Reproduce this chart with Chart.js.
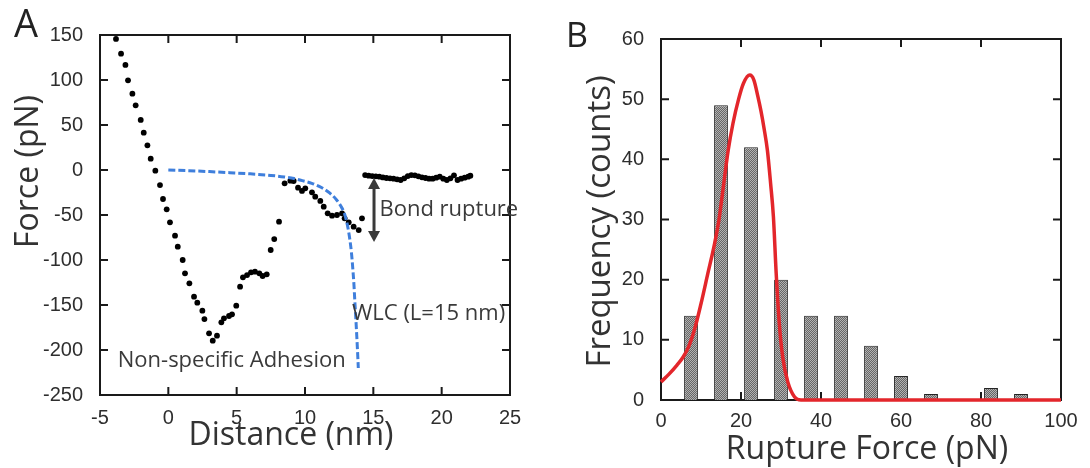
<!DOCTYPE html>
<html>
<head>
<meta charset="utf-8">
<script src="https://cdn.jsdelivr.net/npm/chart.js@4.4.1/dist/chart.umd.min.js"></script>
<style>
  html, body { margin: 0; padding: 0; background: #fff; }
  body { width: 1090px; height: 468px; position: relative; overflow: hidden; }
  .panel { position: absolute; top: 0; width: 545px; height: 468px; }
  #panelA { left: 0; }
  #panelB { left: 545px; }
</style>
</head>
<body>
<div class="panel" id="panelA"><canvas id="chartA"></canvas></div>
<div class="panel" id="panelB"><canvas id="chartB"></canvas></div>
<script>
// Panel A - force vs distance trace
const distanceNm = [
  -3.83, -3.46, -3.14, -2.95, -2.63, -2.39, -2.02, -1.80, -1.53, -1.29, -0.95, -0.61, -0.39, -0.12,
  0.12, 0.49, 0.69, 1.05, 1.22, 1.54, 1.88, 2.12, 2.49, 2.64, 2.98, 3.25, 3.56, 3.88, 4.07, 4.44,
  4.66, 4.97, 5.25, 5.46, 5.76, 6.05, 6.34, 6.66, 6.90, 7.20, 7.49, 7.75, 8.10,
  8.51, 8.93, 9.17, 9.49, 9.78, 10.02, 10.51, 10.75, 11.12, 11.37, 11.66, 11.98, 12.34, 12.71,
  12.90, 13.20, 13.56, 13.93, 14.17,
  14.40, 14.66, 14.92, 15.18, 15.44, 15.70, 15.96, 16.22, 16.48, 16.74, 17.00, 17.26, 17.52,
  17.78, 18.04, 18.30, 18.56, 18.82, 19.08, 19.34, 19.60, 19.86, 20.12, 20.38, 20.64, 20.90,
  21.16, 21.42, 21.68, 21.94, 22.10
];
const forcePn = [
  145.6, 129.2, 116.7, 99.6, 84.8, 71.9, 55.6, 41.5, 27.4, 12.6, -0.7, -16.7, -32.2, -43.7,
  -58.1, -73.0, -85.2, -100.0, -114.8, -125.9, -140.8, -147.4, -156.3, -165.6, -181.5, -189.6, -184.1, -169.3, -164.8, -162.2,
  -160.4, -150.7, -129.6, -119.3, -116.7, -113.7, -113.0, -114.8, -117.8, -115.9, -88.9, -76.7, -57.4,
  -14.8, -11.9, -12.2, -19.6, -23.3, -20.4, -24.8, -29.6, -34.4, -40.7, -48.1, -50.7, -50.0, -48.1,
  -53.7, -58.1, -63.0, -66.7, -53.7,
  -5.6, -6.3, -6.7, -7.0, -7.4, -8.2, -8.9, -9.3, -9.6, -10.4, -11.1, -9.3, -6.7,
  -5.6, -5.9, -7.0, -8.1, -8.9, -9.6, -9.6, -8.5, -7.4, -9.6, -11.1, -9.3, -5.9,
  -11.1, -9.6, -8.5, -7.4, -6.3
];
const wlcDistance = [0, 1.5, 3, 4.5, 6, 7.5, 8.5, 9.2, 9.8, 10.5, 11.2, 11.8, 12.3, 12.6, 12.9,
  13.1, 13.25, 13.4, 13.5, 13.58, 13.65, 13.72, 13.79, 13.85, 13.9];
const wlcForce = [0, -0.8, -1.8, -3, -4.3, -6, -7.8, -9.5, -11.8, -14.8, -19.5, -25.5, -33, -39.5, -49,
  -61, -74, -92, -110, -127, -147, -165, -185, -203, -220];
const ticksDistance = [-5, 0, 5, 10, 15, 20, 25];
const ticksForce = [-250, -200, -150, -100, -50, 0, 50, 100, 150];

// Panel B - rupture force histogram
const binCenters = [7.5, 15, 22.5, 30, 37.5, 45, 52.5, 60, 67.5, 82.5, 90];
const binCounts = [14, 49, 42, 20, 14, 14, 9, 4, 1, 2, 1];
const fitForce = [0, 2, 4, 5.5, 7, 8.5, 10, 11.7, 13.4, 14.5, 15.5, 16.8, 18, 19.4, 20.6, 22.2, 23.2,
  24.2, 25, 25.8, 26.6, 27.4, 28.1, 28.8, 29.6, 30.5, 31.7, 33.4, 35, 100];
const fitFreq = [3, 4.3, 5.8, 7.1, 9, 12, 16, 21, 26, 30, 35, 41.5, 46, 50, 52.6, 54, 53.2,
  50.5, 48, 45, 41.5, 36, 30.5, 21, 12.5, 6.8, 3, 0.5, 0, 0];
const ticksRupture = [0, 20, 40, 60, 80, 100];
const ticksFreq = [0, 10, 20, 30, 40, 50, 60];

const TITLE_FONT = '"Open Sans", "Noto Sans", sans-serif';
const NUM_FONT = '"Liberation Sans", Arial, sans-serif';

// box around the plot with inward tick marks
const frame = {
  id: 'frame',
  beforeDatasetsDraw(chart) {
    const { ctx, chartArea: a, scales: { x, y } } = chart;
    const len = 8;
    ctx.save();
    ctx.strokeStyle = '#1a1a1a';
    ctx.lineWidth = 2;
    ctx.beginPath();
    x.ticks.forEach(t => {
      const px = x.getPixelForValue(t.value);
      ctx.moveTo(px, a.bottom); ctx.lineTo(px, a.bottom - len);
      ctx.moveTo(px, a.top); ctx.lineTo(px, a.top + len);
    });
    y.ticks.forEach(t => {
      const py = y.getPixelForValue(t.value);
      ctx.moveTo(a.left, py); ctx.lineTo(a.left + len, py);
      ctx.moveTo(a.right, py); ctx.lineTo(a.right - len, py);
    });
    ctx.stroke();
    ctx.strokeRect(a.left, a.top, a.right - a.left, a.bottom - a.top);
    ctx.restore();
  }
};

const text = (ctx, str, x, y, size, align, rot) => {
  ctx.save();
  ctx.translate(x, y);
  if (rot) ctx.rotate(rot);
  ctx.font = size + 'px ' + TITLE_FONT;
  ctx.textAlign = align || 'left';
  ctx.textBaseline = 'alphabetic';
  ctx.fillText(str, 0, 0);
  ctx.restore();
};

const decorA = {
  id: 'decorA',
  afterDatasetsDraw(chart) {
    const { ctx, scales: { x, y } } = chart;
    ctx.save();
    ctx.fillStyle = '#3a3a3a';
    ctx.strokeStyle = '#3a3a3a';
    // bond rupture double arrow
    const ax = x.getPixelForValue(15.05);
    const top = y.getPixelForValue(-9);
    const bot = y.getPixelForValue(-80);
    ctx.lineWidth = 3;
    ctx.beginPath();
    ctx.moveTo(ax, top + 6);
    ctx.lineTo(ax, bot - 6);
    ctx.stroke();
    ctx.beginPath();
    ctx.moveTo(ax, top); ctx.lineTo(ax - 6, top + 11); ctx.lineTo(ax + 6, top + 11); ctx.closePath();
    ctx.moveTo(ax, bot); ctx.lineTo(ax - 6, bot - 11); ctx.lineTo(ax + 6, bot - 11); ctx.closePath();
    ctx.fill();
    text(ctx, 'Bond rupture', x.getPixelForValue(15.45), y.getPixelForValue(-51), 22);
    text(ctx, 'WLC (L=15 nm)', x.getPixelForValue(13.44), y.getPixelForValue(-166.7), 22);
    text(ctx, 'Non-specific Adhesion', x.getPixelForValue(-3.7), y.getPixelForValue(-219), 22);
    ctx.restore();
  },
  afterDraw(chart) {
    const ctx = chart.ctx;
    ctx.save();
    ctx.fillStyle = '#222';
    text(ctx, 'A', 14, 37, 38);
    ctx.fillStyle = '#333';
    text(ctx, 'Force (pN)', 37.5, 171.5, 32, 'center', -Math.PI / 2);
    text(ctx, 'Distance (nm)', 291, 445, 32, 'center');
    ctx.restore();
  }
};

const decorB = {
  id: 'decorB',
  afterDraw(chart) {
    const ctx = chart.ctx;
    ctx.save();
    ctx.fillStyle = '#222';
    text(ctx, 'B', 21, 47, 34);
    ctx.fillStyle = '#333';
    text(ctx, 'Frequency (counts)', 64.5, 221.5, 33, 'center', -Math.PI / 2);
    text(ctx, 'Rupture Force (pN)', 322, 459, 32, 'center');
    ctx.restore();
  }
};

const axisBase = (min, max, tickList, pad) => ({
  type: 'linear',
  min: min,
  max: max,
  offset: false,
  grid: { display: false, offset: false },
  border: { display: false },
  afterBuildTicks: s => { s.ticks = tickList.map(v => ({ value: v })); },
  ticks: {
    autoSkip: false,
    maxRotation: 0,
    padding: pad,
    color: '#2e2e2e',
    font: { family: NUM_FONT, size: 20 }
  }
});

window.onload = () => {
  Chart.defaults.animation = false;

  // Panel A
  const xA = axisBase(-5, 25, ticksDistance, 3);
  xA.afterFit = s => { s.height = 73; };
  const yA = axisBase(-250, 150, ticksForce, 9);
  yA.afterFit = s => { s.width = 100; };

  new Chart(document.getElementById('chartA'), {
    type: 'scatter',
    data: {
      datasets: [
        {
          label: 'WLC',
          data: wlcDistance.map((d, i) => ({ x: d, y: wlcForce[i] })),
          showLine: true,
          borderColor: '#3f7fdc',
          borderWidth: 3,
          borderDash: [7, 3],
          pointRadius: 0,
          cubicInterpolationMode: 'monotone',
          order: 0
        },
        {
          label: 'Force',
          data: distanceNm.map((d, i) => ({ x: d, y: forcePn[i] })),
          pointRadius: 2.9,
          pointBorderWidth: 0,
          pointBackgroundColor: '#000',
          order: 1
        }
      ]
    },
    options: {
      responsive: true,
      maintainAspectRatio: false,
      devicePixelRatio: 1,
      layout: { padding: { left: 0, top: 35, right: 35, bottom: 0 } },
      scales: { x: xA, y: yA },
      plugins: { legend: { display: false }, tooltip: { enabled: false } }
    },
    plugins: [frame, decorA]
  });

  // Panel B
  const tile = document.createElement('canvas');
  tile.width = 2; tile.height = 2;
  const tg = tile.getContext('2d');
  tg.fillStyle = '#b2b2b2'; tg.fillRect(0, 0, 2, 2);
  tg.fillStyle = '#666'; tg.fillRect(0, 0, 1, 1); tg.fillRect(1, 1, 1, 1);
  const canvasB = document.getElementById('chartB');
  const barFill = canvasB.getContext('2d').createPattern(tile, 'repeat');

  const xB = axisBase(0, 100, ticksRupture, 1);
  xB.afterFit = s => { s.height = 68; };
  const yB = axisBase(0, 60, ticksFreq, 9);
  yB.afterFit = s => { s.width = 116; };

  new Chart(canvasB, {
    type: 'bar',
    data: {
      datasets: [
        {
          type: 'line',
          label: 'Fit',
          data: fitForce.map((f, i) => ({ x: f, y: fitFreq[i] })),
          borderColor: '#e3262b',
          borderWidth: 3.5,
          pointRadius: 0,
          cubicInterpolationMode: 'monotone',
          clip: false,
          order: 0
        },
        {
          type: 'bar',
          label: 'Counts',
          data: binCenters.map((c, i) => ({ x: c, y: binCounts[i] })),
          backgroundColor: barFill,
          borderColor: '#222',
          borderWidth: 1,
          barPercentage: 0.46,
          categoryPercentage: 1,
          order: 1
        }
      ]
    },
    options: {
      responsive: true,
      maintainAspectRatio: false,
      devicePixelRatio: 1,
      layout: { padding: { left: 0, top: 39, right: 29, bottom: 0 } },
      scales: { x: xB, y: yB },
      plugins: { legend: { display: false }, tooltip: { enabled: false } }
    },
    plugins: [frame, decorB]
  });
};
</script>
</body>
</html>
